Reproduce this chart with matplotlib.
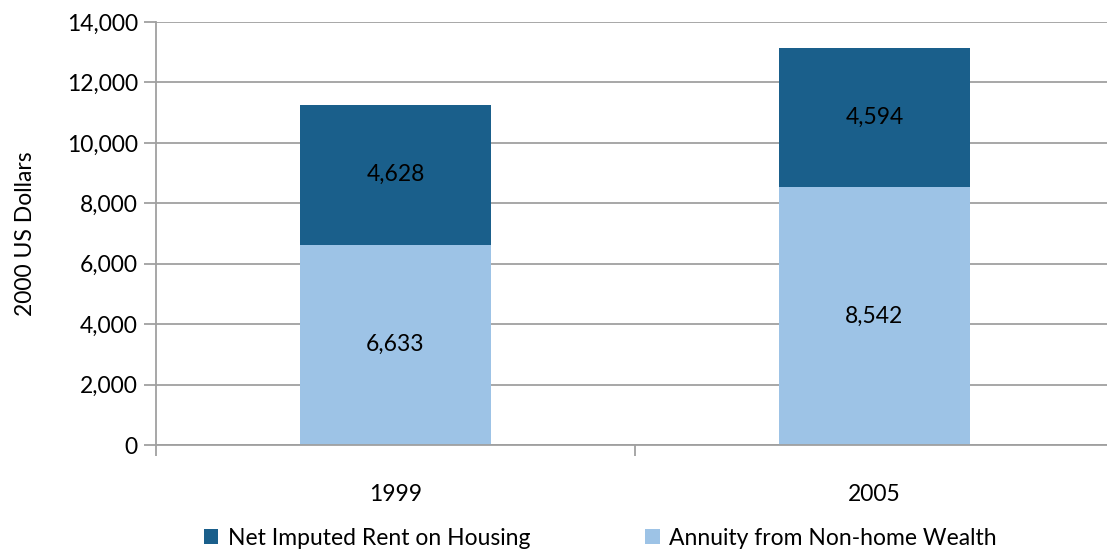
import numpy as np
import matplotlib.pyplot as plt
from matplotlib.ticker import FuncFormatter, FixedLocator

plt.rcParams['font.family'] = ['Lato', 'DejaVu Sans']

years = ['1999', '2005']
annuity = [6633, 8542]       # Annuity from Non-home Wealth
rent = [4628, 4594]          # Net Imputed Rent on Housing

dark = '#1a5f8b'
light = '#9dc3e6'
grid_c = '#a0a0a0'
fs = 16.5

fig = plt.figure(figsize=(11.07, 5.52), dpi=100)
ax = fig.add_axes([0.1409, 0.1938, 0.8654, 0.7663])

x = np.arange(len(years))
w = 0.4
b1 = ax.bar(x, annuity, w, color=light, label='Annuity from Non-home Wealth', zorder=3)
b2 = ax.bar(x, rent, w, bottom=annuity, color=dark, label='Net Imputed Rent on Housing', zorder=3)

for i in range(len(years)):
    ax.text(x[i], annuity[i] / 2, f'{annuity[i]:,}', ha='center', va='center', fontsize=fs, color='black', zorder=4)
    ax.text(x[i], annuity[i] + rent[i] / 2, f'{rent[i]:,}', ha='center', va='center', fontsize=fs, color='black', zorder=4)

ax.set_xlim(-0.5, 1.5)
ax.set_ylim(0, 14000)
ax.set_yticks(np.arange(0, 14001, 2000))
ax.yaxis.set_major_formatter(FuncFormatter(lambda v, p: f'{int(v):,}'))
ax.yaxis.grid(True, color=grid_c, linewidth=1.3, zorder=0)

ax.set_xticks(x)
ax.set_xticklabels(years)
ax.xaxis.set_minor_locator(FixedLocator([-0.5, 0.5, 1.5]))
ax.tick_params(axis='x', which='major', length=0, pad=28, labelsize=fs)
ax.tick_params(axis='x', which='minor', length=8, color=grid_c, width=1.3)
ax.tick_params(axis='y', length=9, color=grid_c, width=1.3, labelsize=fs, pad=4)

for s in ['top', 'right']:
    ax.spines[s].set_visible(False)
for s in ['left', 'bottom']:
    ax.spines[s].set_color(grid_c)
    ax.spines[s].set_linewidth(1.3)
    ax.spines[s].set_zorder(5)

ax.set_ylabel('2000 US Dollars', fontsize=fs, labelpad=22)

handles = [b2, b1]
fig.legend(handles, [h.get_label() for h in handles], loc='center', bbox_to_anchor=(0.542, 0.025),
           ncol=2, frameon=False, fontsize=fs, handlelength=0.65, handleheight=0.65,
           handletextpad=0.4, columnspacing=5.0)

fig.savefig('out.png', dpi=100)
